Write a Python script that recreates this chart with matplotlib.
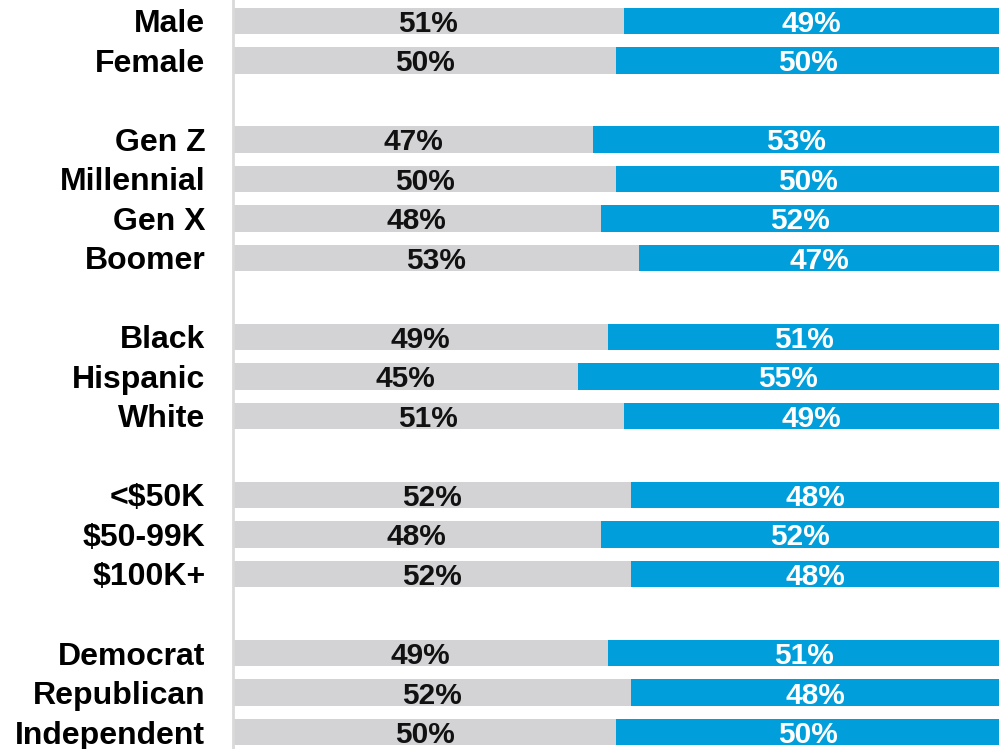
import numpy as np
import matplotlib
matplotlib.use('Agg')
import matplotlib.pyplot as plt

plt.rcParams['font.family'] = ['Liberation Sans', 'DejaVu Sans']

# groups separated by a blank row
groups = ['Male', 'Female', None,
          'Gen Z', 'Millennial', 'Gen X', 'Boomer', None,
          'Black', 'Hispanic', 'White', None,
          '<$50K', '$50-99K', '$100K+', None,
          'Democrat', 'Republican', 'Independent']
left_vals = [51, 50, None,
             47, 50, 48, 53, None,
             49, 45, 51, None,
             52, 48, 52, None,
             49, 52, 50]
right_vals = [49, 50, None,
              53, 50, 52, 47, None,
              51, 55, 49, None,
              48, 52, 48, None,
              51, 48, 50]

gray = '#D3D3D5'
blue = '#009FDB'

fig = plt.figure(figsize=(9.99, 7.49), dpi=100)
ax = fig.add_axes([233 / 999, 0, 1 - 233 / 999, 1])

ypos = [i for i, g in enumerate(groups) if g is not None]
labels = [g for g in groups if g is not None]
lv = np.array([v for v in left_vals if v is not None])
rv = np.array([v for v in right_vals if v is not None])

ax.barh(ypos, lv, height=0.68, color=gray, edgecolor='none')
ax.barh(ypos, rv, left=lv, height=0.68, color=blue, edgecolor='none')

for y, a, b in zip(ypos, lv, rv):
    ax.text(a / 2, y, '%d%%' % a, ha='center', va='center_baseline',
            fontsize=21.5, fontweight='bold', color='#111111')
    ax.text(a + b / 2, y, '%d%%' % b, ha='center', va='center_baseline',
            fontsize=21.5, fontweight='bold', color='white')

ax.set_xlim(0, 100)
ax.set_ylim(18.43, -0.53)
ax.set_yticks(ypos)
ax.set_yticklabels(labels, fontsize=23, fontweight='bold')
ax.tick_params(axis='y', length=0, pad=20)
ax.set_xticks([])
for s in ['top', 'right', 'bottom']:
    ax.spines[s].set_visible(False)
ax.spines['left'].set_color('#D9D9D9')
ax.spines['left'].set_linewidth(2)

fig.savefig('out.png', dpi=100)
